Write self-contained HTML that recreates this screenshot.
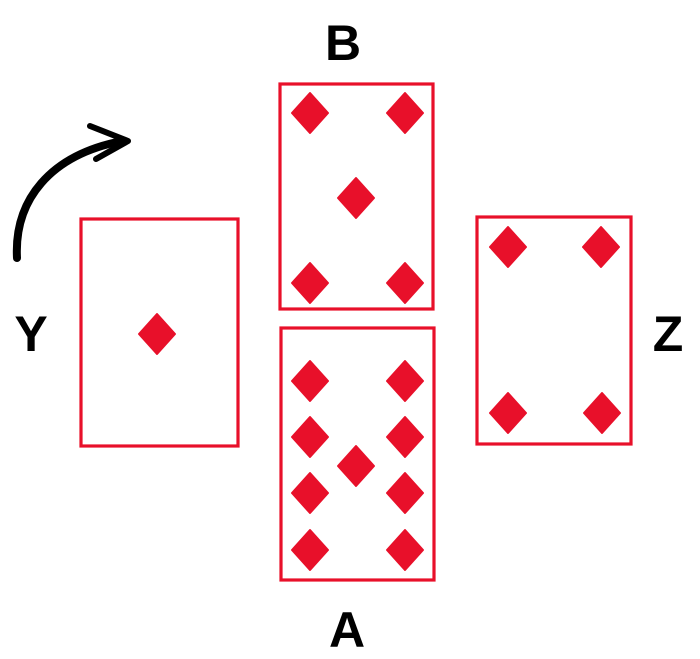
<!DOCTYPE html>
<html><head><style>html,body{margin:0;padding:0;background:#fff}svg{display:block}</style></head>
<body>
<svg width="700" height="659" viewBox="0 0 700 659" xmlns="http://www.w3.org/2000/svg">
<defs><path id="d" d="M0,-20 L18,0 L0,20 L-18,0 Z" fill="#e8102a" stroke="#e8102a" stroke-width="2" stroke-linejoin="round"/></defs>
<g fill="none" stroke="#e8102a" stroke-width="3.2">
<rect x="280" y="84" width="153" height="225"/>
<rect x="81" y="219" width="157" height="227"/>
<rect x="477" y="217" width="154" height="227"/>
<rect x="281" y="328" width="153" height="252"/>
</g>
<g>
<use href="#d" x="310" y="113"/><use href="#d" x="405" y="113"/><use href="#d" x="356" y="198"/><use href="#d" x="310" y="283"/><use href="#d" x="405" y="283"/>
<use href="#d" x="157" y="334"/>
<use href="#d" x="508" y="247"/><use href="#d" x="601" y="247"/><use href="#d" x="508" y="413"/><use href="#d" x="602" y="413"/>
<use href="#d" x="310" y="381"/><use href="#d" x="405" y="381"/><use href="#d" x="310" y="437"/><use href="#d" x="405" y="437"/><use href="#d" x="356" y="466"/><use href="#d" x="310" y="493"/><use href="#d" x="405" y="493"/><use href="#d" x="310" y="550"/><use href="#d" x="405" y="550"/>
</g>
<path d="M17,258 C14,200 50,155 122,141" fill="none" stroke="#000" stroke-width="8" stroke-linecap="round"/>
<path d="M90,126 L128,141 L96,159" fill="none" stroke="#000" stroke-width="6" stroke-linejoin="round" stroke-linecap="round"/>
<g font-family="Liberation Sans, sans-serif" font-weight="bold" font-size="50" fill="#000" text-anchor="middle">
<text x="343" y="60">B</text>
<text x="31" y="351">Y</text>
<text x="668" y="351">Z</text>
<text x="347" y="647">A</text>
</g>
</svg>
</body></html>
